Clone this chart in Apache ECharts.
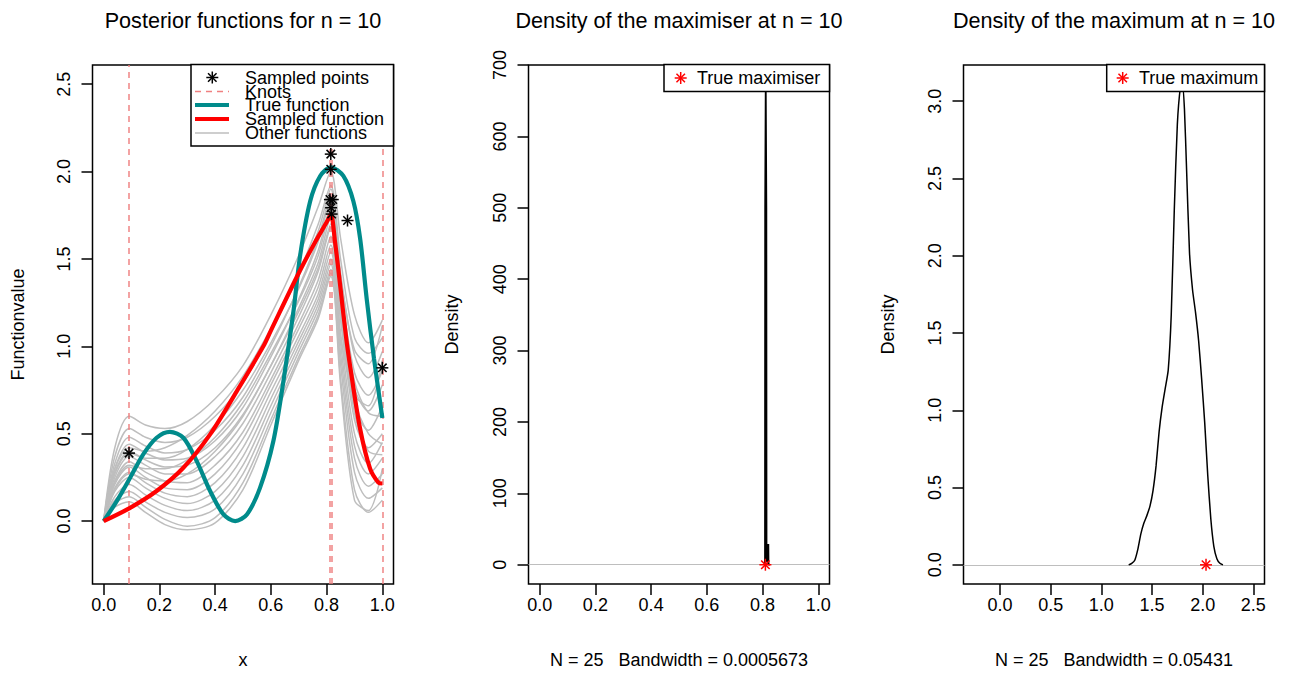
<!DOCTYPE html>
<html>
<head>
<meta charset="utf-8">
<script src="https://cdn.jsdelivr.net/npm/echarts@6/dist/echarts.min.js"></script>
<style>
  html, body { margin: 0; padding: 0; background: #ffffff; }
  #chart { width: 1293px; height: 675px; }
</style>
</head>
<body>
<div id="chart"></div>
<script>
// ---------- data: posterior functions (panel 1) ----------
const sampleGridX = [0, 0.04, 0.092, 0.15, 0.22, 0.30, 0.40, 0.50, 0.60, 0.70, 0.77, 0.815, 0.85, 0.90, 0.95, 1.00];

const otherFn01 = [0, 0.42, 0.60, 0.55, 0.53, 0.57, 0.70, 0.89, 1.18, 1.52, 1.80, 2.00, 1.62, 1.18, 1.02, 1.15];
const otherFn02 = [0, 0.37, 0.53, 0.48, 0.45, 0.48, 0.60, 0.79, 1.08, 1.42, 1.70, 1.92, 1.50, 1.05, 0.96, 1.05];
const otherFn03 = [0, 0.33, 0.48, 0.43, 0.39, 0.41, 0.52, 0.71, 1.00, 1.34, 1.62, 1.86, 1.42, 0.95, 0.82, 0.97];
const otherFn04 = [0, 0.30, 0.44, 0.39, 0.35, 0.36, 0.46, 0.65, 0.94, 1.27, 1.55, 1.80, 1.35, 0.85, 0.72, 0.86];
const otherFn05 = [0, 0.28, 0.40, 0.35, 0.31, 0.32, 0.42, 0.61, 0.89, 1.22, 1.48, 1.74, 1.28, 0.76, 0.63, 0.78];
const otherFn06 = [0, 0.25, 0.37, 0.32, 0.27, 0.27, 0.37, 0.56, 0.85, 1.17, 1.43, 1.68, 1.20, 0.66, 0.52, 0.66];
const otherFn07 = [0, 0.23, 0.34, 0.28, 0.23, 0.22, 0.32, 0.51, 0.81, 1.13, 1.38, 1.63, 1.15, 0.58, 0.42, 0.50];
const otherFn08 = [0, 0.21, 0.31, 0.25, 0.19, 0.18, 0.27, 0.47, 0.78, 1.10, 1.34, 1.58, 1.08, 0.50, 0.33, 0.45];
const otherFn09 = [0, 0.19, 0.28, 0.22, 0.16, 0.14, 0.22, 0.42, 0.74, 1.06, 1.30, 1.54, 1.02, 0.43, 0.27, 0.36];
const otherFn10 = [0, 0.17, 0.25, 0.19, 0.13, 0.10, 0.17, 0.37, 0.70, 1.03, 1.27, 1.50, 0.96, 0.36, 0.20, 0.27];
const otherFn11 = [0, 0.14, 0.21, 0.15, 0.09, 0.06, 0.12, 0.32, 0.66, 1.00, 1.24, 1.47, 0.90, 0.28, 0.13, 0.19];
const otherFn12 = [0, 0.12, 0.17, 0.11, 0.05, 0.02, 0.07, 0.27, 0.62, 0.97, 1.21, 1.44, 0.82, 0.18, 0.05, 0.12];
const otherFn13 = [0, 0.10, 0.14, 0.08, 0.01, -0.03, 0.02, 0.22, 0.58, 0.94, 1.18, 1.42, 0.78, 0.12, 0.06, 0.30];
const otherFn14 = [0, 0.08, 0.11, 0.05, -0.02, -0.05, -0.01, 0.18, 0.55, 0.92, 1.16, 1.40, 1.05, 0.72, 0.66, 0.92];
const otherFn15 = [0, 0.30, 0.42, 0.40, 0.42, 0.49, 0.63, 0.83, 1.10, 1.40, 1.66, 1.90, 1.40, 0.98, 0.90, 1.12];
const otherFn16 = [0, 0.27, 0.39, 0.36, 0.36, 0.41, 0.55, 0.75, 1.02, 1.33, 1.60, 1.84, 1.30, 0.80, 0.62, 0.60];
const otherFn17 = [0, 0.22, 0.32, 0.30, 0.30, 0.35, 0.48, 0.68, 0.96, 1.26, 1.52, 1.78, 1.22, 0.70, 0.50, 0.44];
const otherFn18 = [0, 0.18, 0.27, 0.24, 0.23, 0.27, 0.40, 0.60, 0.89, 1.20, 1.45, 1.70, 1.18, 0.62, 0.40, 0.38];
const otherFunctions = [otherFn01, otherFn02, otherFn03, otherFn04, otherFn05, otherFn06, otherFn07, otherFn08, otherFn09,
                        otherFn10, otherFn11, otherFn12, otherFn13, otherFn14, otherFn15, otherFn16, otherFn17, otherFn18];

const trueFnX = [0, 0.047, 0.095, 0.142, 0.19, 0.238, 0.286, 0.334, 0.382, 0.43, 0.472, 0.514, 0.561, 0.609, 0.645,
                 0.681, 0.705, 0.741, 0.777, 0.815, 0.86, 0.896, 0.92, 0.944, 0.97, 1.0];
const trueFnY = [0, 0.114, 0.248, 0.382, 0.477, 0.511, 0.477, 0.343, 0.172, 0.038, 0, 0.038, 0.19, 0.458, 0.80,
                 1.20, 1.52, 1.83, 1.975, 2.025, 1.975, 1.83, 1.62, 1.27, 0.93, 0.59];

const sampledFnX = [0, 0.095, 0.19, 0.286, 0.382, 0.478, 0.573, 0.60, 0.70, 0.76, 0.80, 0.815, 0.83, 0.85, 0.87,
                    0.885, 0.92, 0.956, 0.986, 1.0];
const sampledFnY = [0, 0.076, 0.172, 0.305, 0.496, 0.744, 1.00, 1.09, 1.42, 1.60, 1.71, 1.755, 1.60, 1.33, 1.05,
                    0.88, 0.53, 0.30, 0.22, 0.215];

const sampledPointsX = [0.091, 0.815, 0.815, 0.812, 0.822, 0.816, 0.818, 0.875, 1.0];
const sampledPointsY = [0.389, 2.10, 2.013, 1.84, 1.84, 1.793, 1.757, 1.72, 0.877];

const knots = [0.092, 0.810, 0.820, 1.0];

// ---------- data: density of the maximiser (panel 2) ----------
const maximiserX = [0.806, 0.8086, 0.8092, 0.8112, 0.8134, 0.8140, 0.8195, 0.8205, 0.8211, 0.8217, 0.826];
const maximiserDensity = [0, 0, 500, 673, 500, 6, 2, 29, 4, 0, 0];
const trueMaximiser = 0.81;

// ---------- data: density of the maximum (panel 3) ----------
const maximumX = [1.27, 1.30, 1.33, 1.36, 1.39, 1.42, 1.45, 1.48, 1.51, 1.54, 1.57, 1.60, 1.63, 1.66, 1.69, 1.72,
                  1.75, 1.78, 1.80, 1.82, 1.84, 1.87, 1.90, 1.93, 1.96, 1.99, 2.02, 2.05, 2.08, 2.11, 2.14, 2.17, 2.20];
const maximumDensity = [0, 0.01, 0.03, 0.10, 0.20, 0.27, 0.32, 0.38, 0.48, 0.64, 0.86, 1.02, 1.14, 1.26, 1.62, 2.30,
                        2.85, 3.09, 3.11, 2.95, 2.58, 2.02, 1.78, 1.63, 1.45, 1.20, 0.92, 0.58, 0.30, 0.12, 0.04, 0.01, 0];
const trueMaximum = 2.033;

// ---------- tick labels ----------
const unitTicks = [0, 0.2, 0.4, 0.6, 0.8, 1.0];
const functionValueTicks = [0, 0.5, 1.0, 1.5, 2.0, 2.5];
const maximiserDensityTicks = [0, 100, 200, 300, 400, 500, 600, 700];
const maximumTicks = [0, 0.5, 1.0, 1.5, 2.0, 2.5];
const maximumDensityTicks = [0, 0.5, 1.0, 1.5, 2.0, 2.5, 3.0];

// ---------- styling ----------
const FONT = '"Liberation Sans", Arial, Helvetica, sans-serif';
const TEAL = '#008B8B';
const RED = '#FF0000';
const GREY = '#BEBEBE';
const KNOT = '#F08080';
const THIN = 1.5;
const THICK = 4.2;

const chart = echarts.init(document.getElementById('chart'), null, { renderer: 'svg', width: 1293, height: 675 });

const grids = [
  { left: 92.5, top: 65, width: 301, height: 519 },
  { left: 528.5, top: 65, width: 301, height: 519 },
  { left: 963.5, top: 65, width: 301, height: 519 }
].map(g => Object.assign({ show: true, borderColor: '#000', borderWidth: THIN, backgroundColor: 'transparent', outerBoundsMode: 'none' }, g));

function xAxisFor(gridIndex, min, max, ticks, fmt) {
  return {
    type: 'value', gridIndex, min, max,
    axisLine: { show: false, onZero: false },
    splitLine: { show: false },
    axisTick: { show: true, length: 11, customValues: ticks, lineStyle: { color: '#000', width: THIN } },
    axisLabel: { customValues: ticks, margin: 12, color: '#000', fontSize: 18, fontFamily: FONT, formatter: fmt }
  };
}
function yAxisFor(gridIndex, min, max, ticks, fmt) {
  return {
    type: 'value', gridIndex, min, max,
    axisLine: { show: false, onZero: false },
    splitLine: { show: false },
    axisTick: { show: true, length: 11, customValues: ticks, lineStyle: { color: '#000', width: THIN } },
    axisLabel: { customValues: ticks, margin: 20, rotate: 90, color: '#000', fontSize: 18, fontFamily: FONT, formatter: fmt }
  };
}
const oneDecimal = v => Number(v).toFixed(1);
const integer = v => String(Math.round(v));

const pairs = (xs, ys) => xs.map((x, i) => [x, ys[i]]);

// asterisk marks (plus and cross overlaid)
function starShapes(cx, cy, r, color) {
  const d = r * 0.7071;
  const segs = [[cx - r, cy, cx + r, cy], [cx, cy - r, cx, cy + r],
                [cx - d, cy - d, cx + d, cy + d], [cx - d, cy + d, cx + d, cy - d]];
  return segs.map(s => ({
    type: 'line',
    shape: { x1: s[0], y1: s[1], x2: s[2], y2: s[3] },
    style: { stroke: color, lineWidth: 1.5 }
  }));
}
function starSeries(axisIndex, xs, ys, color) {
  return {
    type: 'custom', xAxisIndex: axisIndex, yAxisIndex: axisIndex, z: 6, clip: false,
    data: pairs(xs, ys),
    renderItem: (params, api) => {
      const p = api.coord([api.value(0), api.value(1)]);
      return { type: 'group', children: starShapes(p[0], p[1], 6, color) };
    }
  };
}

const series = [];

// panel 1: other posterior draws
otherFunctions.forEach(fn => {
  series.push({
    type: 'line', xAxisIndex: 0, yAxisIndex: 0, z: 2,
    data: pairs(sampleGridX, fn), smooth: 0.3, showSymbol: false, symbol: 'none',
    lineStyle: { color: GREY, width: THIN }, silent: true
  });
});
// knots
series.push({
  type: 'line', xAxisIndex: 0, yAxisIndex: 0, data: [], symbol: 'none',
  markLine: {
    silent: true, symbol: 'none', z: 3, label: { show: false },
    lineStyle: { color: KNOT, width: 1.6, type: [6, 5], opacity: 0.9 },
    data: knots.map(k => ({ xAxis: k }))
  }
});
// true function and sampled function
series.push({
  type: 'line', xAxisIndex: 0, yAxisIndex: 0, z: 4, data: pairs(trueFnX, trueFnY),
  smooth: 0.3, symbol: 'none', lineStyle: { color: TEAL, width: THICK }
});
series.push({
  type: 'line', xAxisIndex: 0, yAxisIndex: 0, z: 4, data: pairs(sampledFnX, sampledFnY),
  smooth: 0.3, symbol: 'none', lineStyle: { color: RED, width: THICK }
});
series.push(starSeries(0, sampledPointsX, sampledPointsY, '#000'));

// panel 2: density of the maximiser
series.push({
  type: 'line', xAxisIndex: 1, yAxisIndex: 1, z: 2, data: pairs(maximiserX, maximiserDensity),
  symbol: 'none', lineStyle: { color: '#000', width: 1.8 },
  markLine: { silent: true, symbol: 'none', z: 1, label: { show: false },
              lineStyle: { color: GREY, width: 1.2, type: 'solid' }, data: [{ yAxis: 0 }] }
});
series.push(starSeries(1, [trueMaximiser], [0], RED));

// panel 3: density of the maximum
series.push({
  type: 'line', xAxisIndex: 2, yAxisIndex: 2, z: 2, data: pairs(maximumX, maximumDensity),
  smooth: 0.2, symbol: 'none', lineStyle: { color: '#000', width: THIN },
  markLine: { silent: true, symbol: 'none', z: 1, label: { show: false },
              lineStyle: { color: GREY, width: 1.2, type: 'solid' }, data: [{ yAxis: 0 }] }
});
series.push(starSeries(2, [trueMaximum], [0], RED));

// ---------- text and legends ----------
function text(str, x, y, size, opts) {
  return Object.assign({
    type: 'text', x, y, z: 100,
    style: { text: str, x: 0, y: 0, fill: '#000', font: size + 'px ' + FONT, textAlign: 'center', textVerticalAlign: 'middle' }
  }, opts || {});
}
function hline(x1, x2, y, color, width, dash) {
  return { type: 'line', z: 101, shape: { x1, y1: y, x2, y2: y }, style: { stroke: color, lineWidth: width, lineDash: dash || null } };
}
function box(x, y, w, h) {
  return { type: 'rect', z: 100, shape: { x, y, width: w, height: h }, style: { fill: '#fff', stroke: '#000', lineWidth: THIN } };
}
function leftText(str, x, y) {
  const t = text(str, x, y, 18);
  t.style.textAlign = 'left';
  t.z = 101;
  return t;
}

const graphics = [
  // titles
  text('Posterior functions for n = 10', 243, 20, 21.6),
  text('Density of the maximiser at n = 10', 679, 20, 21.6),
  text('Density of the maximum at n = 10', 1114, 20, 21.6),
  // axis titles
  text('x', 243, 660, 18),
  text('N = 25   Bandwidth = 0.0005673', 679, 660, 18),
  text('N = 25   Bandwidth = 0.05431', 1114, 660, 18),
  text('Functionvalue', 18, 324.5, 18, { rotation: Math.PI / 2 }),
  text('Density', 452, 324.5, 18, { rotation: Math.PI / 2 }),
  text('Density', 888, 324.5, 18, { rotation: Math.PI / 2 }),
  // legend, panel 1
  box(191, 64.5, 202.5, 81.5),
  ...starShapes(212.3, 77.5, 6, '#000').map(s => Object.assign(s, { z: 101 })),
  hline(195, 229, 91.5, KNOT, 1.6, [6, 5]),
  hline(195, 229, 105, TEAL, THICK),
  hline(195, 229, 119, RED, THICK),
  hline(195, 229, 133, GREY, THIN),
  leftText('Sampled points', 245, 77.5),
  leftText('Knots', 245, 91.5),
  leftText('True function', 245, 105),
  leftText('Sampled function', 245, 119),
  leftText('Other functions', 245, 132.5),
  // legend, panel 2
  box(664, 64.5, 165.5, 27),
  ...starShapes(680.7, 78, 6, RED).map(s => Object.assign(s, { z: 101 })),
  leftText('True maximiser', 697, 78),
  // legend, panel 3
  box(1106.7, 64.5, 157.8, 27),
  ...starShapes(1122.7, 78, 6, RED).map(s => Object.assign(s, { z: 101 })),
  leftText('True maximum', 1139, 78)
];

chart.setOption({
  animation: false,
  backgroundColor: '#ffffff',
  textStyle: { fontFamily: FONT },
  grid: grids,
  xAxis: [
    xAxisFor(0, -0.04, 1.04, unitTicks, oneDecimal),
    xAxisFor(1, -0.04, 1.04, unitTicks, oneDecimal),
    xAxisFor(2, -0.36, 2.61, maximumTicks, oneDecimal)
  ],
  yAxis: [
    yAxisFor(0, -0.36, 2.61, functionValueTicks, oneDecimal),
    yAxisFor(1, -27, 700, maximiserDensityTicks, integer),
    yAxisFor(2, -0.124, 3.234, maximumDensityTicks, oneDecimal)
  ],
  series: series,
  graphic: graphics
});
</script>
</body>
</html>
